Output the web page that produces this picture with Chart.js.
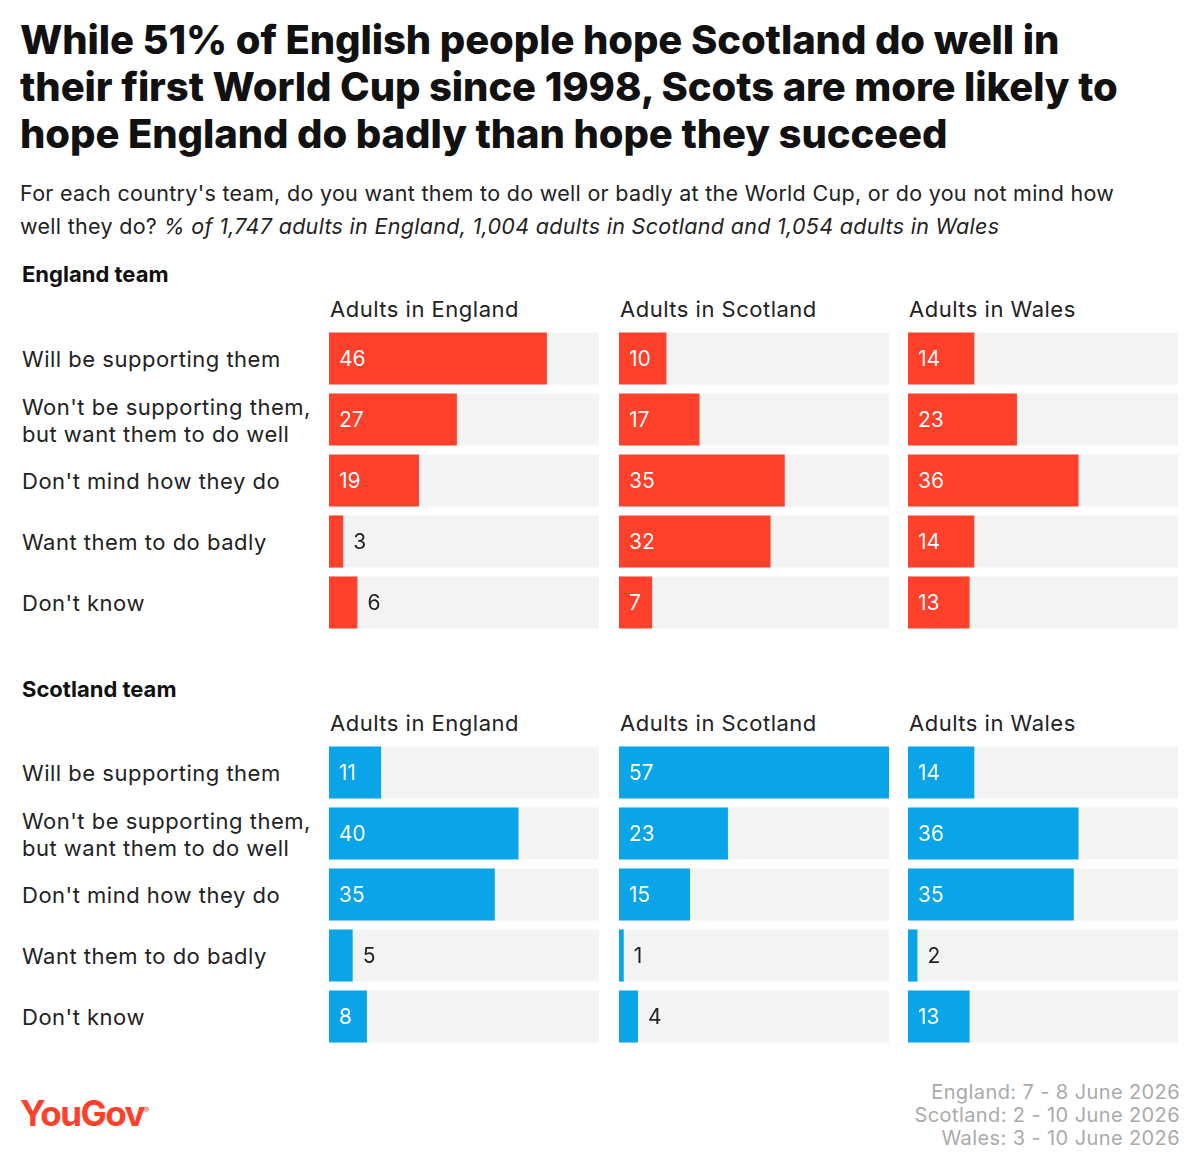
<!DOCTYPE html>
<html><head><meta charset="utf-8">
<script src="https://cdn.jsdelivr.net/npm/chart.js@4"></script>
<style>
body{margin:0;width:1200px;height:1171px;background:#fff;font-family:Inter,"Open Sans",sans-serif;color:#111;position:relative;overflow:hidden}
.a{position:absolute;white-space:nowrap}
h1{position:absolute;left:20px;top:16px;margin:0;font-size:40px;line-height:47px;font-weight:800;letter-spacing:-0.1px;width:1110px}
.sub{left:20px;top:177px;font-size:21.5px;line-height:33px;color:#222;white-space:normal;width:1115px;letter-spacing:0.3px}
.sec{left:22px;font-size:22px;font-weight:700}
.col{font-size:22px;color:#222;letter-spacing:0.5px}
.row{left:22px;font-size:22px;color:#222;line-height:27px;letter-spacing:0.5px}
.date{right:20px;font-size:20px;color:#aaa;text-align:right;letter-spacing:0.4px}
canvas{position:absolute}
</style></head><body>
<h1>While 51% of English people hope Scotland do well in their first World Cup since 1998, Scots are more likely to hope England do badly than hope they succeed</h1>
<div class="a sub">For each country's team, do you want them to do well or badly at the World Cup, or do you not mind how well they do? <i>% of 1,747 adults in England, 1,004 adults in Scotland and 1,054 adults in Wales</i></div>
<div class="a sec" style="top:261px">England team</div>
<div class="a sec" style="top:676px">Scotland team</div>
<div id="labels"></div>
<div class="a" style="left:20px;top:1092px;font-size:35px;font-weight:700;color:#ff412c;letter-spacing:-1.5px">YouGov<sup style="font-size:8px">®</sup></div>
<div class="a date" style="top:1080px">England: 7 - 8 June 2026</div>
<div class="a date" style="top:1103px">Scotland: 2 - 10 June 2026</div>
<div class="a date" style="top:1126px">Wales: 3 - 10 June 2026</div>
<script>
const categories = ["Will be supporting them", "Won't be supporting them,\nbut want them to do well", "Don't mind how they do", "Want them to do badly", "Don't know"];
const groups = ["Adults in England", "Adults in Scotland", "Adults in Wales"];
const englandTeam = [[46, 27, 19, 3, 6], [10, 17, 35, 32, 7], [14, 23, 36, 14, 13]];
const scotlandTeam = [[11, 40, 35, 5, 8], [57, 23, 15, 1, 4], [14, 36, 35, 2, 13]];
const maxValue = 57;

const colX = [329, 619, 908];
const panels = [
  {data: englandTeam, top: 328, head: 296, color: "#ff412c"},
  {data: scotlandTeam, top: 742, head: 710, color: "#0aa5e8"}
];

const valueLabels = {
  id: "valueLabels",
  afterDatasetsDraw(chart) {
    const ctx = chart.ctx;
    const meta = chart.getDatasetMeta(1);
    ctx.save();
    ctx.font = "21px Inter, sans-serif";
    ctx.textBaseline = "middle";
    meta.data.forEach((bar, i) => {
      const v = chart.data.datasets[1].data[i];
      if (v >= 7) { ctx.fillStyle = "#fff"; ctx.fillText(v, bar.base + 10, bar.y + 1); }
      else { ctx.fillStyle = "#222"; ctx.fillText(v, bar.x + 10, bar.y + 1); }
    });
    ctx.restore();
  }
};

const lab = document.getElementById("labels");
panels.forEach(p => {
  categories.forEach((c, i) => {
    const d = document.createElement("div");
    d.className = "a row";
    const lines = c.split("\n");
    d.innerHTML = lines.join("<br>");
    d.style.top = (p.top + 30.5 + i * 61 - lines.length * 13.5 + 1) + "px";
    lab.appendChild(d);
  });
  groups.forEach((g, k) => {
    const h = document.createElement("div");
    h.className = "a col";
    h.textContent = g;
    h.style.left = (colX[k] + 1) + "px";
    h.style.top = p.head + "px";
    lab.appendChild(h);

    const cv = document.createElement("canvas");
    cv.style.left = colX[k] + "px";
    cv.style.top = p.top + "px";
    cv.style.width = "270px"; cv.style.height = "305px";
    document.body.appendChild(cv);
    new Chart(cv, {
      type: "bar",
      data: {
        labels: categories,
        datasets: [
          {data: categories.map(() => maxValue), backgroundColor: "#f3f3f3", grouped: false, order: 2},
          {data: p.data[k], backgroundColor: p.color, grouped: false, order: 1}
        ]
      },
      options: {
        indexAxis: "y", responsive: false, animation: false,
        categoryPercentage: 1, barPercentage: 0.855,
        layout: {padding: 0},
        plugins: {legend: {display: false}, tooltip: {enabled: false}},
        scales: {
          x: {display: false, min: 0, max: maxValue},
          y: {display: false}
        }
      },
      plugins: [valueLabels]
    });
  });
});
</script>
</body></html>
